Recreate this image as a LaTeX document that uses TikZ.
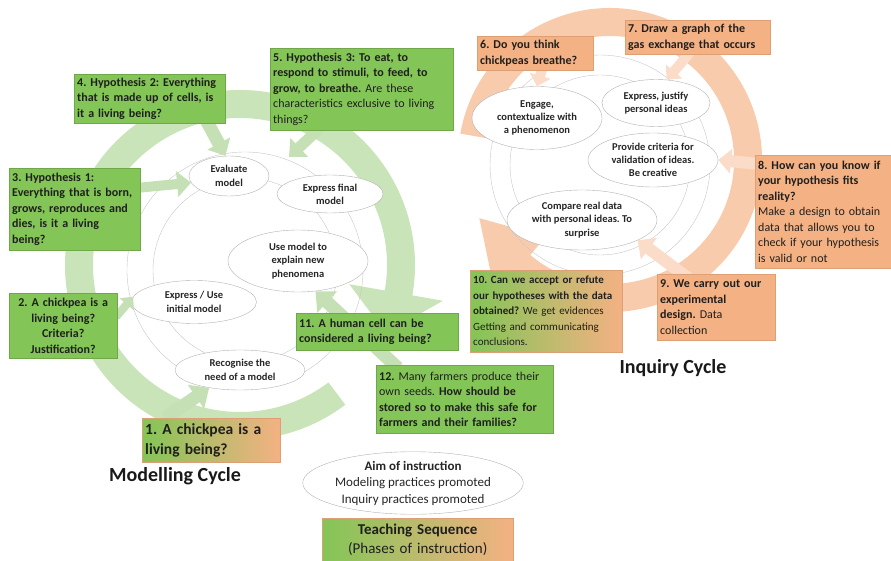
\documentclass[tikz,border=0pt]{standalone}
\usepackage{fontspec}
\setmainfont{Carlito}
\usetikzlibrary{arrows.meta,shapes.geometric}

\definecolor{boxgreen}{RGB}{131,197,86}
\definecolor{boxorange}{RGB}{244,177,131}
\definecolor{ringgreen}{RGB}{200,228,184}
\definecolor{ringorange}{RGB}{248,203,173}
\definecolor{arrgreen}{RGB}{197,224,180}
\definecolor{arrorange}{RGB}{250,220,200}
\hyphenpenalty=10000
\exhyphenpenalty=10000

\begin{document}
\frenchspacing
\begin{tikzpicture}[x=1pt,y=-1pt,
  box/.style={draw=boxgreen!85!black, fill=boxgreen, anchor=north west, inner xsep=3pt, inner ysep=1pt, align=left, text=black!88, font=\bfseries\fontsize{12}{15.5}\selectfont},
  obox/.style={box, draw=boxorange!90!black, fill=boxorange},
  gbox/.style={box, draw=boxorange!90!black, left color=boxgreen, right color=boxorange},
  phase/.style={ellipse, draw=black!30, fill=white, inner sep=0pt, align=center, text=black!85, font=\bfseries\fontsize{10.5}{13.3}\selectfont},
  garrow/.style={draw=arrgreen, line width=11pt, -{Triangle[length=14pt,width=25pt]}},
  oarrow/.style={draw=arrorange, line width=10pt, -{Triangle[length=11pt,width=21pt]}},
  cyclename/.style={font=\bfseries\fontsize{20}{24}\selectfont, text=black!90}]
\useasboundingbox (0,0) rectangle (891,561);

% modelling cycle ring
\begin{scope}[shift={(240,265)}]
\fill[ringgreen] (53:175) arc[start angle=53, end angle=370, radius=175] -- (370:206) -- (385:161) -- (370:111) -- (370:147) arc[start angle=370, end angle=53, radius=147] -- cycle;
\draw[black!22] (5,5) circle[radius=118] (5,5) circle[radius=92];
\end{scope}
% inquiry cycle ring
\begin{scope}[shift={(610,160)}]
\fill[ringorange] (190:152) arc[start angle=190, end angle=490, radius=152] -- (490:178) -- (516:143) -- (490:100) -- (490:124) arc[start angle=490, end angle=190, radius=124] -- cycle;
\draw[black!22] (-10,5) circle[radius=110] (-10,5) circle[radius=90];
\end{scope}

% phases
\node[phase, minimum width=80pt, minimum height=40pt] (ev) at (229,176) {Evaluate\\model};
\node[phase, minimum width=106pt, minimum height=38pt] (ef) at (330,194) {Express final\\model};
\node[phase, minimum width=140pt, minimum height=62pt] (um) at (298,261) {Use model to\\explain new\\phenomena};
\node[phase, minimum width=125pt, minimum height=43pt] (eu) at (194,302) {Express / Use\\initial model};
\node[phase, minimum width=130pt, minimum height=40pt] (rn) at (240,370) {Recognise the\\need of a model};
\node[phase, minimum width=130pt, minimum height=63pt] (eg) at (537,118) {Engage,\\contextualize with\\a phenomenon};
\node[phase, minimum width=108pt, minimum height=47pt] (ej) at (656,103) {Express, justify\\personal ideas};
\node[phase, minimum width=130pt, minimum height=54pt] (pc) at (653,160) {Provide criteria for\\validation of ideas.\\Be creative};
\node[phase, minimum width=150pt, minimum height=60pt] (cr) at (582,220) {Compare real data\\with personal ideas. To\\surprise};
\node[phase, minimum width=213pt, minimum height=57pt, font=\fontsize{13}{16.5}\selectfont] (aim) at (413,483) {\textbf{Aim of instruction}\\Modeling practices promoted\\Inquiry practices promoted};

% block arrows
\coordinate (a4) at (205,118);
\coordinate (a5) at (322,126);
\coordinate (t5) at (289,157);
\coordinate (a3) at (136,188);
\coordinate (a2) at (116,317);
\coordinate (a1) at (165,418);
\coordinate (a12) at (398,368);
\coordinate (a6) at (543,66);
\coordinate (a7) at (692,50);
\coordinate (a8) at (760,164);
\coordinate (a9) at (688,278);
\draw[garrow, line width=13pt] (a4) -- (ev.100);
\draw[garrow] (a5) -- (t5);
\draw[garrow, line width=10pt] (a3) -- (ev.190);
\draw[garrow, line width=8pt, -{Triangle[length=10pt,width=18pt]}] (a2) -- (eu.175);
\draw[garrow, line width=13pt, -{Triangle[length=16pt,width=28pt]}] (a1) -- (rn.210);
\draw[garrow, line width=13pt, -{Triangle[length=16pt,width=28pt]}] (a12) -- (um.300);
\draw[oarrow] (a6) -- (eg.north);
\draw[oarrow] (a7) -- (ej.65);
\draw[oarrow, line width=12pt, -{Triangle[length=13pt,width=24pt]}] (a8) -- (pc.east);
\draw[oarrow, line width=12pt, -{Triangle[length=14pt,width=26pt]}] (a9) -- (cr.-20);

% question boxes
\node[box, text width=145pt, minimum height=49pt] (b4) at (74,74) {4. Hypothesis 2: Everything\\that is made up of cells, is\\it a living being?};
\node[box, text width=177pt, minimum height=82pt] (b5) at (270,48) {5. Hypothesis 3: To eat, to\\respond to stimuli, to feed, to\\grow, to breathe. \mdseries Are these\\characteristics exclusive to living\\things?};
\node[box, text width=125pt, minimum height=82pt] (b3) at (9,168) {3. Hypothesis 1:\\Everything that is born,\\grows, reproduces and\\dies, is it a living\\being?};
\node[box, align=center, text width=102pt, minimum height=65pt] (b2) at (9,293) {2. A chickpea is a\\living being?\\Criteria?\\Justification?};
\node[gbox, text width=132pt, minimum height=44pt, font=\bfseries\fontsize{15.5}{20}\selectfont] (b1) at (142,418) {1. A chickpea is a\\living being?};
\node[box, text width=156pt, minimum height=37pt] (b11) at (296,313) {11. A human cell can be\\considered a living being?};
\node[box, text width=171pt, minimum height=68pt] (b12) at (376,365) {12. \mdseries Many farmers produce their\\own seeds. \bfseries How should be\\stored so to make this safe for\\farmers and their families?};
\node[gbox, text width=146pt, minimum height=82pt, font=\bfseries\fontsize{11}{15.5}\selectfont] (b10) at (470,270) {10. Can we accept or refute\\our hypotheses with the data\\obtained? \mdseries We get evidences\\Getting and communicating\\conclusions.};
\node[obox, text width=112pt, minimum height=66pt] (b9) at (657,274) {9. We carry out our\\experimental\\design. \mdseries Data\\collection};
\node[obox, text width=130pt, minimum height=113pt] (b8) at (755,155) {8. How can you know if\\your hypothesis fits\\reality?\\\mdseries Make a design to obtain\\data that allows you to\\check if your hypothesis\\is valid or not};
\node[obox, text width=139pt, minimum height=34pt] (b7) at (625,20) {7. Draw a graph of the\\gas exchange that occurs};
\node[obox, text width=110pt, minimum height=34pt] (b6) at (477,36) {6. Do you think\\chickpeas breathe?};

% titles
\node[cyclename] (mc) at (175,476) {Modelling Cycle};
\node[cyclename] (ic) at (673,368) {Inquiry Cycle};
\node[gbox, align=center, text width=185pt, minimum height=43pt, font=\fontsize{15}{19}\selectfont] (ts) at (322,518) {\textbf{Teaching Sequence}\\(Phases of instruction)};
\end{tikzpicture}
\end{document}
